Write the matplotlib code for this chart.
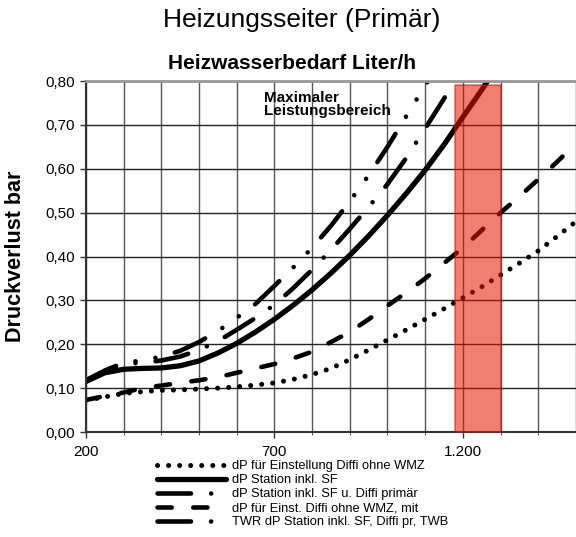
import numpy as np
import matplotlib
matplotlib.use('Agg')
import matplotlib.pyplot as plt
from matplotlib.ticker import FuncFormatter, FixedLocator, MultipleLocator

plt.rcParams['font.family'] = ['Liberation Sans', 'DejaVu Sans']

# Heizwasserbedarf in Liter/h
flow = [200, 250, 300, 350, 400, 450, 500, 550, 600, 650, 700, 750, 800, 850,
        900, 950, 1000, 1050, 1100, 1150, 1200, 1250, 1300, 1350, 1400, 1450, 1500]

# Druckverlust in bar
dp_einst = [0.072, 0.080, 0.088, 0.092, 0.095, 0.096, 0.098, 0.100, 0.103, 0.107,
            0.112, 0.120, 0.131, 0.145, 0.165, 0.187, 0.210, 0.233, 0.257, 0.281,
            0.306, 0.331, 0.358, 0.385, 0.413, 0.446, 0.480]
dp_station = [0.115, 0.135, 0.143, 0.145, 0.146, 0.151, 0.162, 0.180, 0.202, 0.228,
              0.257, 0.289, 0.324, 0.362, 0.403, 0.447, 0.494, 0.544, 0.597, 0.655,
              0.718, 0.780, 0.845]
dp_station_diffi = [0.115, 0.138, 0.155, 0.158, 0.163, 0.172, 0.187, 0.207, 0.233,
                    0.260, 0.290, 0.328, 0.370, 0.415, 0.463, 0.513, 0.565, 0.625,
                    0.692, 0.760, 0.830]
dp_einst_mit = [0.073, 0.082, 0.090, 0.100, 0.106, 0.112, 0.118, 0.125, 0.135, 0.145,
                0.155, 0.168, 0.183, 0.205, 0.228, 0.257, 0.288, 0.318, 0.350, 0.385,
                0.420, 0.460, 0.500, 0.537, 0.576, 0.616, 0.658]
dp_twr = [0.118, 0.140, 0.158, 0.163, 0.172, 0.185, 0.205, 0.230, 0.260, 0.292,
          0.333, 0.375, 0.420, 0.470, 0.526, 0.585, 0.650, 0.720, 0.790, 0.860]

labels = ['dP für Einstellung Diffi ohne WMZ',
          'dP Station inkl. SF',
          'dP Station inkl. SF u. Diffi primär',
          'dP für Einst. Diffi ohne WMZ, mit',
          'TWR dP Station inkl. SF, Diffi pr, TWB']

x_ticks = [200, 700, 1200]

# maximaler Leistungsbereich
band_lo, band_hi, band_top = 1180, 1300, 0.79

fig = plt.figure(figsize=(5.76, 5.37), dpi=100)
ax = fig.add_axes([0.149, 0.1955, 0.851, 0.6535])

lines = []
l, = ax.plot(flow[:len(dp_einst)], dp_einst, color='black', lw=3.6,
             linestyle=(0, (0.01, 2.2)), dash_capstyle='round')
lines.append(l)
l, = ax.plot(flow[:len(dp_station)], dp_station, color='black', lw=3.8,
             solid_capstyle='round')
lines.append(l)
l, = ax.plot(flow[:len(dp_station_diffi)], dp_station_diffi, color='black', lw=3.3,
             linestyle=(0, (7.3, 4.4, 0.01, 4.4)), dash_capstyle='round')
lines.append(l)
l, = ax.plot(flow[:len(dp_einst_mit)], dp_einst_mit, color='black', lw=3.3,
             linestyle=(0, (3.1, 4.7)), dash_capstyle='round')
lines.append(l)
l, = ax.plot(flow[:len(dp_twr)], dp_twr, color='black', lw=3.3,
             linestyle=(0, (7.3, 4.4, 0.01, 4.4, 0.01, 4.4)), dash_capstyle='round')
lines.append(l)

ax.fill_between([band_lo, band_hi], 0, band_top, color=(0.89, 0.09, 0.0),
                alpha=0.55, edgecolor=(0.75, 0.1, 0.05), lw=1.2, zorder=5)

ax.set_xlim(200, 1500)
ax.set_ylim(0, 0.8)
ax.xaxis.set_major_locator(FixedLocator(x_ticks))
ax.xaxis.set_minor_locator(MultipleLocator(100))
ax.yaxis.set_major_locator(MultipleLocator(0.1))
ax.xaxis.set_major_formatter(FuncFormatter(lambda v, p: f'{int(v):,}'.replace(',', '.')))
ax.yaxis.set_major_formatter(FuncFormatter(lambda v, p: f'{v:.2f}'.replace('.', ',')))
ax.grid(True, which='both', axis='x', color='#555555', lw=1)
ax.grid(True, which='major', axis='y', color='#222222', lw=1)
ax.set_axisbelow(True)
ax.tick_params(axis='both', which='major', labelsize=11, length=4.5, width=1,
               color='#333333')
ax.tick_params(axis='x', which='major', pad=5)
ax.tick_params(axis='x', which='minor', length=2, color='#333333')
ax.spines['top'].set_color('#999999')
ax.spines['top'].set_linewidth(2)
ax.spines['right'].set_visible(False)
ax.spines['left'].set_color('#333333')
ax.spines['left'].set_linewidth(1.5)
ax.spines['bottom'].set_color('#333333')
ax.spines['bottom'].set_linewidth(1.5)

ax.set_title('Heizwasserbedarf Liter/h', fontsize=15, fontweight='bold', pad=9,
             x=0.42)
ax.set_ylabel('Druckverlust bar', fontsize=15.5, fontweight='bold', labelpad=14)
fig.text(0.524, 0.962, 'Heizungsseiter (Primär)', fontsize=19, ha='center',
         va='center')
ax.text(673, 0.747, 'Maximaler\nLeistungsbereich', fontsize=11, fontweight='bold',
        ha='left', va='center', linespacing=0.95)

fig.legend(lines, labels, loc='upper left', bbox_to_anchor=(0.262, 0.155),
           frameon=False, fontsize=9.3, handlelength=5.3, handletextpad=0.45,
           labelspacing=0.15, borderpad=0)

fig.savefig('out.png', dpi=100)
